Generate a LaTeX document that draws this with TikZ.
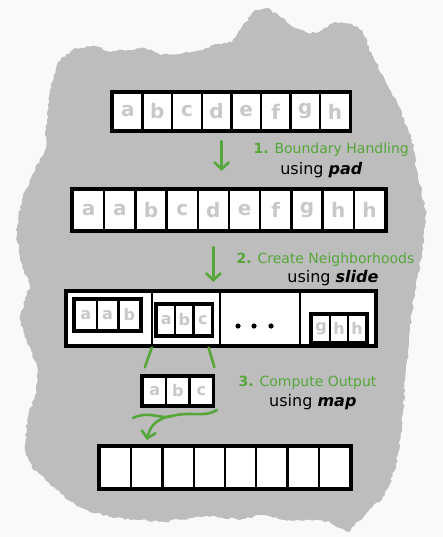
\documentclass[tikz,border=0pt]{standalone}
\usepackage{fontspec}
\setmainfont{DejaVu Sans}
\usetikzlibrary{arrows.meta,decorations.pathmorphing}
\definecolor{stepgreen}{RGB}{86,166,58}
\definecolor{blobgray}{RGB}{189,189,189}
\definecolor{lettergray}{RGB}{200,200,200}

\begin{document}
\begin{tikzpicture}[
        x=1pt, y=-1pt,
        cell/.style={rectangle, draw, line width=2.3pt, fill=white, inner sep=0pt, text=lettergray, font=\fontsize{20}{24}\selectfont\bfseries},
        small/.style={font=\fontsize{16}{18}\selectfont\bfseries},
        frame/.style={draw, line width=2.8pt},
        garrow/.style={-{Straight Barb[length=7pt,width=15pt]}, line width=2.6pt, draw=stepgreen, line cap=round},
        gline/.style={line width=2.6pt, draw=stepgreen, line cap=round},
        steptext/.style={anchor=west, text=stepgreen, font=\fontsize{14}{16}\selectfont},
        usetext/.style={anchor=east, font=\fontsize{16}{18}\selectfont}
    ]
        \useasboundingbox (0,0) rectangle (443,537);
        \fill[gray!5] (0,0) rectangle (443,537);
        % brush stroke behind everything
        \fill[blobgray, decorate, decoration={random steps, segment length=3pt, amplitude=1.2pt}]
            (50,90) -- (58,62) -- (75,48) -- (95,46) -- (110,52) -- (128,50) -- (145,48) -- (160,55)
            -- (180,54) -- (200,50) -- (218,44) -- (232,42) -- (240,30) -- (255,10) -- (268,8)
            -- (282,18) -- (295,28) -- (310,34) -- (322,30) -- (335,22) -- (352,24) -- (362,30)
            -- (372,55) -- (385,80) -- (398,105) -- (412,140) -- (418,175) -- (426,215) -- (422,255)
            -- (415,290) -- (410,330) -- (406,370) -- (403,410) -- (400,440) -- (395,470) -- (385,495)
            -- (365,515) -- (348,532) -- (330,522) -- (310,520) -- (290,520) -- (260,515) -- (240,520)
            -- (215,516) -- (190,518) -- (165,522) -- (140,520) -- (115,518) -- (90,512) -- (68,500)
            -- (48,482) -- (32,468) -- (25,450) -- (27,420) -- (35,395) -- (38,370) -- (28,345)
            -- (20,320) -- (25,300) -- (30,285) -- (20,260) -- (16,230) -- (22,200) -- (32,175)
            -- (45,150) -- (47,120) -- cycle;

        % input
        \foreach \t [count=\i] in {a,b,c,d,e,f,g,h}
            \node[cell, minimum width=29.6pt, minimum height=37pt] (in\i) at (113+29.6*\i-14.8, 111.5) {\t};
        \draw[frame] (in1.north west) rectangle (in8.south east);

        % padded
        \foreach \t [count=\i] in {a,a,b,c,d,e,f,g,h,h}
            \node[cell, minimum width=31.2pt, minimum height=40pt] (pad\i) at (73+31.2*\i-15.6, 210) {\t};
        \draw[frame] (pad1.north west) rectangle (pad10.south east);

        % neighborhoods
        \node[cell, minimum width=85pt, minimum height=53pt] (nb1) at (109.5,318.5) {};
        \node[cell, minimum width=68pt, minimum height=53pt] (nb2) at (186,318.5) {};
        \node[cell, minimum width=80pt, minimum height=53pt] (nb3) at (260,318.5) {};
        \node[cell, minimum width=75pt, minimum height=53pt] (nb4) at (337.5,318.5) {};
        \draw[frame] (nb1.north west) rectangle (nb4.south east);
        \foreach \dx in {-22,-6,11}
            \fill ([xshift=\dx pt, yshift=-7.5pt]nb3.center) circle (2.6pt);

        \foreach \t [count=\i] in {a,a,b}
            \node[cell, small, minimum width=21.7pt, minimum height=30pt] (nbA\i) at (75+21.7*\i-10.85, 315) {\t};
        \draw[frame] (nbA1.north west) rectangle (nbA3.south east);
        \foreach \t [count=\i] in {a,b,c}
            \node[cell, small, minimum width=18.3pt, minimum height=30pt] (nbB\i) at (157+18.3*\i-9.15, 320) {\t};
        \draw[frame] (nbB1.north west) rectangle (nbB3.south east);
        \foreach \t [count=\i] in {g,h,h}
            \node[cell, small, minimum width=18pt, minimum height=28pt] (nbC\i) at (312+18*\i-9, 328.5) {\t};
        \draw[frame] (nbC1.north west) rectangle (nbC3.south east);

        % one window
        \foreach \t [count=\i] in {a,b,c}
            \node[cell, small, minimum width=23.3pt, minimum height=28pt] (win\i) at (143+23.3*\i-11.65, 391) {\t};
        \draw[frame] (win1.north west) rectangle (win3.south east);

        % output
        \foreach \i in {1,...,8}
            \node[cell, minimum width=31.25pt, minimum height=41pt] (out\i) at (100+31.25*\i-15.625, 467.5) {};
        \draw[frame] (out1.north west) rectangle (out8.south east);

        % steps
        \draw[garrow, shorten <=10pt, shorten >=18pt] ([xshift=5pt]in4.south) -- ([xshift=5pt]in4.south |- pad4.north);
        \node[steptext] (step1) at (250,150) {\textbf{1.} Boundary Handling};
        \node[usetext] (use1) at (366,170) {using \textbf{\textit{pad}}};

        \draw[garrow, shorten <=16pt, shorten >=9pt] (pad5.south) -- (pad5.south |- nb2.north);
        \node[steptext] (step2) at (233,260) {\textbf{2.} Create Neighborhoods};
        \node[usetext] (use2) at (382,278) {using \textbf{\textit{slide}}};

        \draw[gline, shorten <=12pt, shorten >=9pt] (nbB1.south west) -- (win1.north west);
        \draw[gline, shorten <=12pt, shorten >=9pt] ([xshift=-8pt]nbB3.south east) -- ([xshift=3pt]win3.north east);
        \node[steptext] (step3) at (235,383) {\textbf{3.} Compute Output};
        \node[usetext] (use3) at (360,402) {using \textbf{\textit{map}}};

        \coordinate (bl) at (133,418);
        \coordinate (bm) at (172,416);
        \coordinate (br) at (217,410);
        \coordinate (tip) at (147,440);
        \draw[gline] (bl) .. controls (150,410) and (160,420) .. (bm) .. controls (190,411) and (205,418) .. (br);
        \draw[garrow] (bm) .. controls (158,418) and (150,425) .. (tip);
    \end{tikzpicture}
\end{document}
